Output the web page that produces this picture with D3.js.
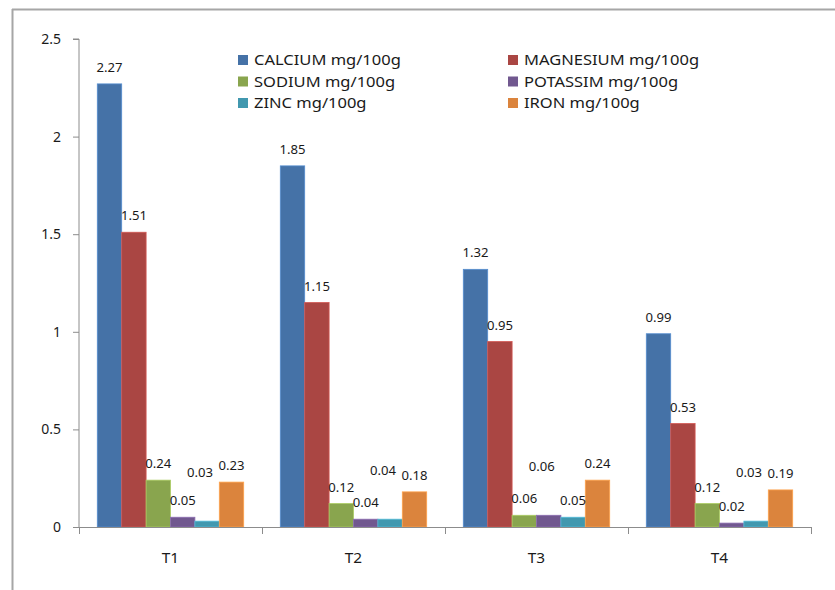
<!DOCTYPE html>
<html>
<head>
<meta charset="utf-8">
<script src="https://cdn.jsdelivr.net/npm/d3@7"></script>
<style>
  html, body { margin: 0; padding: 0; background: #fff; }
  svg { display: block; }
  text { font-family: "Noto Sans", "Open Sans", sans-serif; fill: #1a1a1a; }
</style>
</head>
<body>
<svg id="chart" width="835" height="590"></svg>
<script>
// ---- data ----
const categories = ["T1", "T2", "T3", "T4"];
const seriesNames = ["CALCIUM mg/100g", "MAGNESIUM mg/100g", "SODIUM mg/100g", "POTASSIM mg/100g", "ZINC mg/100g", "IRON mg/100g"];
const calcium   = [2.27, 1.85, 1.32, 0.99];
const magnesium = [1.51, 1.15, 0.95, 0.53];
const sodium    = [0.24, 0.12, 0.06, 0.12];
const potassium = [0.05, 0.04, 0.06, 0.02];
const zinc      = [0.03, 0.04, 0.05, 0.03];
const iron      = [0.23, 0.18, 0.24, 0.19];
const yTicks = [0, 0.5, 1, 1.5, 2, 2.5];
const colors = ["#4572A7", "#AA4643", "#89A54E", "#71588F", "#4198AF", "#DB843D"];

const seriesValues = [calcium, magnesium, sodium, potassium, zinc, iron];

// ---- layout ----
const svg = d3.select("#chart");
const plot = { left: 79, right: 811, top: 39, bottom: 527 };

// outer frame (partial, as cropped in reference)
svg.append("line").attr("x1", 12.5).attr("x2", 12.5).attr("y1", 9).attr("y2", 590)
  .attr("stroke", "#a6a6a6").attr("stroke-width", 2);
svg.append("line").attr("x1", 12).attr("x2", 835).attr("y1", 9.5).attr("y2", 9.5)
  .attr("stroke", "#a6a6a6").attr("stroke-width", 2);

const x0 = d3.scaleBand().domain(categories).range([plot.left, plot.right]).paddingInner(0).paddingOuter(0);
const x1 = d3.scaleBand().domain(d3.range(seriesNames.length)).range([0, x0.bandwidth()])
  .paddingInner(0).paddingOuter(0.75);
const y = d3.scaleLinear().domain([0, 2.5]).range([plot.bottom, plot.top]);

// y axis
const yAxis = svg.append("g").attr("transform", `translate(${plot.left},0)`)
  .call(d3.axisLeft(y).tickValues(yTicks).tickFormat(d => String(d)).tickSize(6).tickPadding(12));
yAxis.select(".domain").attr("stroke", "#8c8c8c").attr("d", `M-6,${y(2.5)}H0V${plot.bottom}`);
yAxis.selectAll(".tick line").attr("stroke", "#8c8c8c");
yAxis.selectAll(".tick text").attr("font-size", 14).attr("fill", "#1a1a1a")
  .style("font-family", '"Noto Sans", sans-serif');

// bars
const groups = svg.append("g").selectAll("g").data(categories).join("g")
  .attr("transform", d => `translate(${x0(d)},0)`);

groups.selectAll("rect")
  .data((c, ci) => seriesValues.map((vals, si) => ({ si, v: vals[ci] })))
  .join("rect")
  .attr("x", d => x1(d.si))
  .attr("y", d => y(d.v))
  .attr("width", x1.bandwidth())
  .attr("height", d => y(0) - y(d.v))
  .attr("fill", d => colors[d.si])
  .attr("stroke", d => d3.color(colors[d.si]).brighter(0.6))
  .attr("stroke-width", 0.8);

// x axis
const xAxisG = svg.append("g");
xAxisG.append("line").attr("x1", plot.left - 6).attr("x2", plot.right).attr("y1", plot.bottom + 0.5).attr("y2", plot.bottom + 0.5)
  .attr("stroke", "#8c8c8c");
const boundaries = categories.map(c => x0(c)).concat([plot.right]);
xAxisG.selectAll("line.tk").data(boundaries).join("line").attr("class", "tk")
  .attr("x1", d => d + 0.5).attr("x2", d => d + 0.5)
  .attr("y1", plot.bottom).attr("y2", plot.bottom + 7).attr("stroke", "#8c8c8c");
xAxisG.selectAll("text").data(categories).join("text")
  .attr("transform", d => `translate(${x0(d) + x0.bandwidth() / 2},${plot.bottom + 36}) scale(1.1,1)`)
  .attr("text-anchor", "middle").attr("font-size", 14).text(d => d);

// data labels with simple overlap avoidance
const labelLayer = svg.append("g");
categories.forEach((c, ci) => {
  const placed = [];
  seriesValues.forEach((vals, si) => {
    const v = vals[ci];
    let lx = x0(c) + x1(si) + x1.bandwidth() / 2;
    let ly = y(v) - 12;
    const prev = placed[placed.length - 1];
    if (prev && Math.abs(prev.x - lx) < 26 && Math.abs(prev.y - ly) < 13) {
      ly -= 32;
      lx -= 7;
    }
    placed.push({ x: lx, y: ly });
    labelLayer.append("text")
      .attr("transform", `translate(${lx},${ly}) scale(1.05,1)`)
      .attr("text-anchor", "middle").attr("font-size", 12.5).text(v.toFixed(2));
  });
});

// legend
const legend = svg.append("g");
seriesNames.forEach((name, i) => {
  const col = i % 2, row = Math.floor(i / 2);
  const lx = col === 0 ? 238 : 508;
  const ly = 60 + row * 21.5;
  legend.append("rect").attr("x", lx).attr("y", ly - 5).attr("width", 10).attr("height", 10)
    .attr("fill", colors[i]);
  legend.append("text").attr("transform", `translate(${lx + 16},${ly + 5}) scale(1.18,1)`)
    .attr("font-size", 14).text(name);
});
</script>
</body>
</html>
